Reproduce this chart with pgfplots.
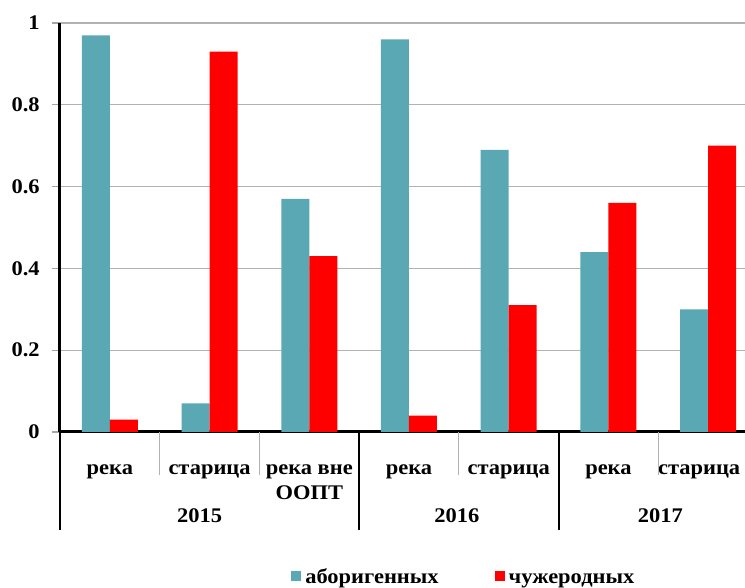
\documentclass[border=0pt]{standalone}
\usepackage{fontspec}
\setmainfont{Liberation Serif}[FakeStretch=1.08]
\usepackage{pgfplots}
\pgfplotsset{compat=1.18}
\definecolor{teal1}{RGB}{90,168,180}
\definecolor{red1}{RGB}{255,0,0}
\begin{document}
\fontsize{10.4pt}{12.2pt}\selectfont
\begin{tikzpicture}
\begin{axis}[
  at={(30pt,78pt)}, anchor=south west,
  width=349pt, height=204.5pt, scale only axis,
  xmin=-0.5, xmax=6.5, ymin=0, ymax=1,
  ybar=0pt, bar width=14pt,
  axis x line*=bottom, axis y line*=left,
  axis line style={line width=1.5pt, black},
  ytick={0,0.2,0.4,0.6,0.8,1},
  ymajorgrids, grid style={gray!60, line width=0.6pt},
  ytick style={gray!70, line width=0.6pt},
  tick align=outside, major tick length=4pt,
  xtick={0,1,2,3,4,5,6},
  xtick style={draw=none},
  xticklabels={река,старица,{река вне\\[0.3pt]ООПТ},река,старица,река,{\hspace*{-9pt}старица}},
  xticklabel style={align=center, anchor=north, yshift=-8.7pt},
  ticklabel style={font=\bfseries},
  /pgf/number format/assume math mode=true,
  yticklabel style={xshift=-2.5pt},
  clip=false,
  legend style={at={(0.58,-0.355)}, anchor=center, draw=none, fill=none,
    legend columns=2, font=\bfseries,
    /tikz/every even column/.append style={column sep=26pt},
    nodes={text depth=0.3ex, text height=1.6ex},
    legend cell align=left},
  legend image code/.code={\fill[#1] (0pt,-2.0pt) rectangle (5pt,3.2pt);},
]
\addplot[fill=teal1, draw=none] coordinates {(0,0.97) (1,0.07) (2,0.57) (3,0.96) (4,0.69) (5,0.44) (6,0.30)};
\addplot[fill=red1, draw=none] coordinates {(0,0.03) (1,0.93) (2,0.43) (3,0.04) (4,0.31) (5,0.56) (6,0.70)};
\legend{аборигенных, чужеродных}
\draw[gray!60, line width=0.6pt] (axis cs:0.5,0) -- ([yshift=-21.5pt]axis cs:0.5,0);
\draw[gray!60, line width=0.6pt] (axis cs:1.5,0) -- ([yshift=-21.5pt]axis cs:1.5,0);
\draw[gray!60, line width=0.6pt] (axis cs:3.5,0) -- ([yshift=-21.5pt]axis cs:3.5,0);
\draw[gray!60, line width=0.6pt] (axis cs:5.5,0) -- ([yshift=-21.5pt]axis cs:5.5,0);
\draw[black, line width=1pt] (axis cs:-0.5,0) -- ([yshift=-49pt]axis cs:-0.5,0);
\draw[black, line width=1pt] (axis cs:2.5,0) -- ([yshift=-49pt]axis cs:2.5,0);
\draw[black, line width=1pt] (axis cs:4.5,0) -- ([yshift=-49pt]axis cs:4.5,0);
\draw[black, line width=1pt] (axis cs:6.5,0) -- ([yshift=-49pt]axis cs:6.5,0);
\node[font=\bfseries, anchor=base] at ([yshift=-45.5pt]axis cs:0.9,0) {2015};
\node[font=\bfseries, anchor=base] at ([yshift=-45.5pt]axis cs:3.48,0) {2016};
\node[font=\bfseries, anchor=base] at ([yshift=-45.5pt]axis cs:5.52,0) {2017};
\end{axis}
\pgfresetboundingbox
\useasboundingbox (0,0) rectangle (372.5pt,294pt);
\end{tikzpicture}
\end{document}
